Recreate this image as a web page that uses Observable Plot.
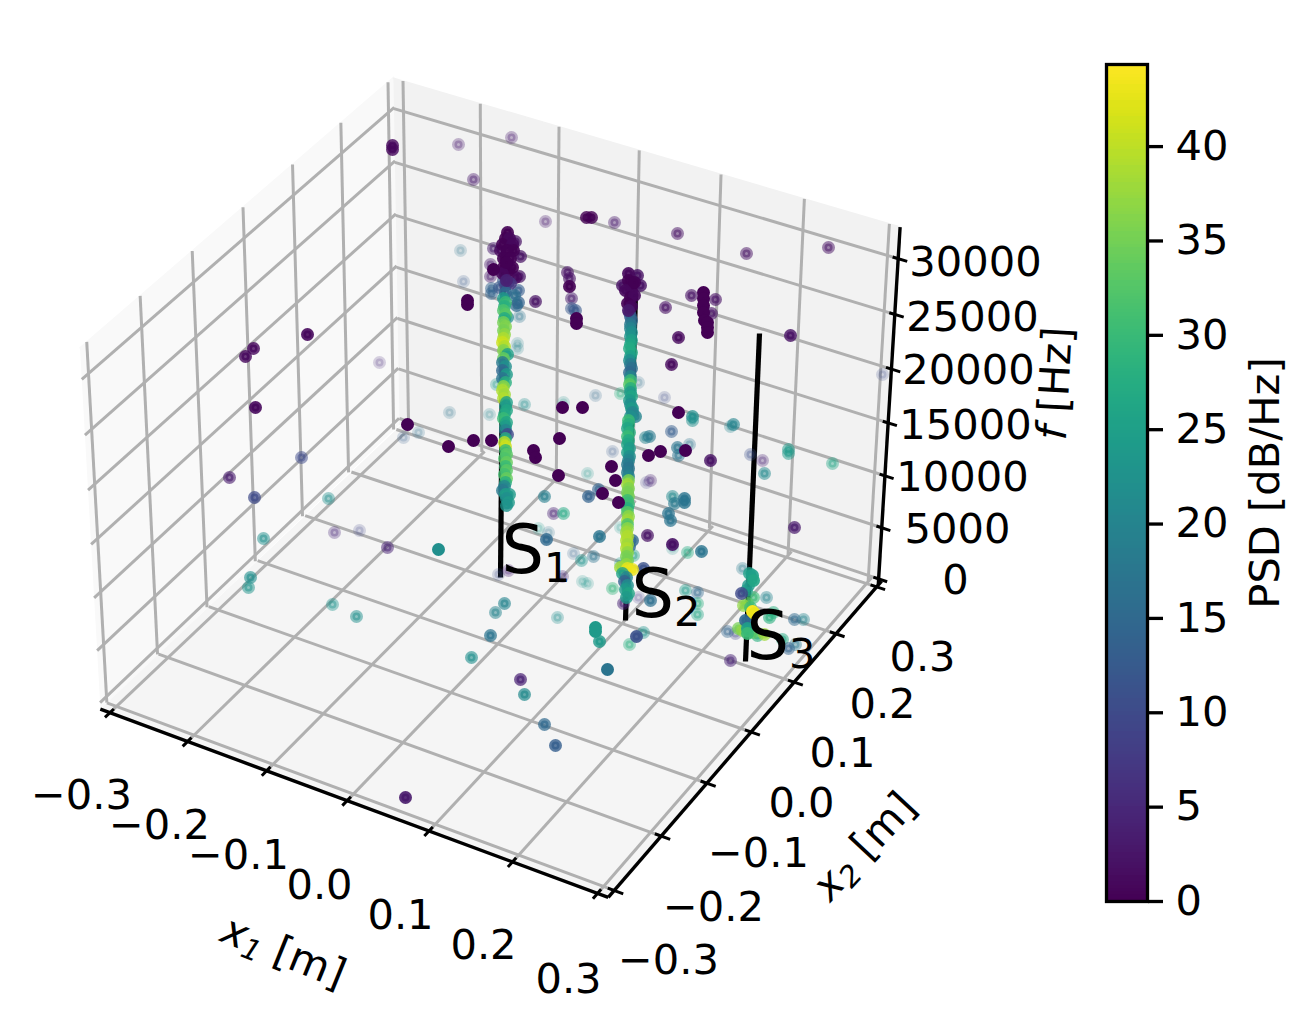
<!DOCTYPE html>
<html>
<head>
<meta charset="utf-8">
<script src="https://cdn.jsdelivr.net/npm/d3@7"></script>
<script src="https://cdn.jsdelivr.net/npm/@observablehq/plot@0.6"></script>
<style>
html,body{margin:0;padding:0;background:#fff}
#chart{position:relative;width:1315px;height:1032px;overflow:hidden}
#chart svg{position:absolute;left:0;top:0;background:transparent}
</style>
</head>
<body>
<div id="chart"></div>
<script>
// ---------- values ----------
const x1Ticks = [-0.3,-0.2,-0.1,0,0.1,0.2,0.3];
const x2Ticks = [-0.3,-0.2,-0.1,0,0.1,0.2,0.3];
const fTicks = [0,5000,10000,15000,20000,25000,30000];
const psdTicks = [0,5,10,15,20,25,30,35,40];
const psdMax = 44.35;
const paneEdge = 0.3125, fLow = -600, fHigh = 32800;

// projected positions of the tick-extent corners of each face
const floorCorners = [[116,706],[603,886],[866,583],[405,432]];   // (x1,x2): (-,-) (+,-) (+,+) (-,+)
const backCorners  = [[408,421],[868,575],[887,255],[403,111]];   // (x1,f):  (-,0) (+,0) (+,30k) (-,30k)
const leftCorners  = [[106,696],[393,423],[388,112],[88,373]];    // (x2,f):  (-,0) (+,0) (+,30k) (-,30k)

const x1Labels = [["−0.3",81,795],["−0.2",159,825],["−0.1",238,855],["0.0",319,885],["0.1",400,915],["0.2",483,945],["0.3",568,979]];
const x2Labels = [["−0.3",668,960],["−0.2",713,907],["−0.1",758,853],["0.0",801,803],["0.1",842,753],["0.2",882,704],["0.3",922,657]];
const fLabels = [["0",955,580],["5000",957,529],["10000",962,477],["15000",965,425],["20000",968,370],["25000",972,317],["30000",975,262]];

const sourceNames = [["S1",501,551],["S2",631,595],["S3",746,637]];
const sourceLines = [[500,577,503,250],[625,620,635,293],[745,661,759,333]];

// [viewX, viewY, PSD dB/Hz, nearness 0..1]
const sparsePoints = [
[458,144,3,.3],[511,137,3,.3],[473,179,3,.4],[545,221,3,.3],[586,217,0,.8],[591,217,0,.8],[614,222,3,.4],[677,233,2,.5],
[746,253,2,.5],[828,247,2,.5],[392,145,1,.8],[392,149,1,.8],[460,250,17,.2],[463,281,12,.2],[467,300,0,1],[467,304,0,1],
[491,288,14,.5],[491,293,14,.5],[490,264,3,.4],[490,276,3,.4],[493,248,3,.5],[493,269,0,1],[535,301,2,.7],[519,316,17,.3],
[517,343,20,.2],[517,348,20,.2],[524,404,22,.3],[489,414,20,.2],[449,412,17,.2],[562,407,0,1],[582,407,0,1],[563,402,22,.2],
[595,395,15,.2],[496,384,24,.3],[567,272,2,.6],[569,278,2,.6],[569,286,0,.9],[571,298,3,.5],[571,308,12,.5],[575,310,12,.6],
[576,318,0,1],[576,323,0,1],[665,307,2,.6],[691,295,2,.6],[703,292,0,1],[703,298,0,1],[703,305,0,1],[703,312,0,1],
[704,320,0,1],[707,322,0,1],[707,327,0,1],[707,332,0,1],[715,299,2,.6],[711,313,2,.6],[678,337,1,.8],[671,364,1,.8],
[638,382,16,.2],[664,397,10,.2],[678,412,0,1],[692,416,22,.7],[692,420,22,.5],[733,424,20,.6],[730,426,20,.3],[790,335,2,.8],
[882,374,10,.2],[671,431,13,.5],[645,437,20,.5],[649,436,18,.6],[677,447,17,.6],[678,455,17,.5],[689,444,17,.3],[685,450,0,1],
[660,451,0,1],[648,455,0,1],[710,460,2,.8],[750,454,11,.3],[762,460,4,.3],[764,473,21,.5],[788,449,24,.5],[788,453,24,.5],
[832,463,26,.4],[650,480,4,.3],[646,482,8,.2],[672,496,21,.5],[674,503,18,.6],[684,498,17,.8],[684,502,17,.8],[668,513,17,.7],
[670,520,17,.7],[647,535,2,.7],[672,548,22,.2],[672,544,2,.9],[687,552,27,.4],[701,551,17,.8],[794,527,3,.7],[643,568,11,.8],
[650,600,16,.7],[685,590,24,.4],[697,592,15,.4],[697,603,28,.4],[697,614,26,.4],[643,632,23,.4],[636,636,11,.9],[629,644,28,.4],
[607,669,17,1],[595,627,24,1],[595,631,24,1],[599,641,24,.8],[612,588,29,.4],[623,603,4,.5],[638,597,8,.2],[632,540,15,.8],
[629,546,15,.8],[633,555,25,.4],[620,527,24,.2],[620,563,24,.3],[635,416,20,.8],[632,408,22,.8],[620,393,28,.3],
[307,334,1,.9],[253,348,1,.8],[245,356,1,.8],[379,362,5,.2],[255,407,1,.9],[229,477,3,.6],[301,457,10,.5],[254,497,10,.7],
[328,498,22,.4],[263,538,22,.5],[250,577,22,.6],[248,587,23,.5],[334,532,5,.3],[359,530,9,.2],[387,547,4,.5],[438,549,22,1],
[332,604,23,.4],[356,616,22,.5],[407,424,0,1],[418,432,16,.2],[403,437,13,.2],[448,446,0,1],[473,440,0,1],[491,440,0,1],
[559,438,0,1],[533,450,0,1],[535,457,0,1],[558,475,0,1],[587,473,23,.2],[544,496,19,.6],[588,496,14,.7],[598,489,14,.6],
[602,493,0,1],[611,466,0,1],[615,480,0,1],[618,502,0,1],[612,451,12,.2],[553,513,4,.4],[563,513,27,.5],[538,528,24,.2],
[548,532,17,.2],[546,539,15,.8],[599,536,17,.8],[573,553,14,.2],[581,560,23,.4],[593,556,17,.4],[508,570,4,.3],[498,574,10,.2],
[562,576,5,.3],[582,581,23,.2],[587,583,23,.2],[504,603,20,.6],[495,612,20,.5],[557,617,22,.3],[490,635,17,.7],[471,657,22,.6],
[520,679,4,.7],[524,694,21,.7],[544,724,15,.7],[555,745,13,.8],[405,797,3,.9]
];

const sourceS1Points = [
[507,232,0,.9],[505,238,0,.9],[509,238,1,.9],[502,244,0,.9],[512,244,1,.9],[515,241,2,.7],[500,250,1,.8],[507,250,0,.9],
[513,250,0,.9],[520,256,2,.7],[503,258,0,.9],[510,258,0,.9],[503,267,0,.9],[512,267,0,.9],[515,277,1,.8],[519,276,2,.7],
[508,270,0,.9],[502,273,1,.9],[506,262,0,.9],[506,280,4,.9],[518,290,13,.6],[518,302,14,.7],[516,305,15,.7],[503,280,12,.6],
[499,287,12,.6],[505,285,9,.7],[510,283,7,.8],[505,292,15,.8],[514,295,16,.7],[507,317,22,.7],
[503,298,24,.8],[505,302,30,.8],[504,306,28,.8],[503,310,32,.8],[505,314,33,.8],[504,318,27,.8],[503,322,35,.8],[505,326,36,.8],
[503,330,35,.8],[504,334,37,.8],[503,338,39,.8],[502,342,41,.8],[504,346,39,.8],[503,350,36,.8],[507,354,25,.8],[503,358,34,.8],
[502,362,18,.8],[505,366,22,.8],[502,370,15,.8],[506,374,24,.8],[502,378,17,.8],[505,382,28,.8],[503,386,37,.8],[502,390,39,.8],
[504,394,38,.8],[503,398,39,.8],[506,402,25,.8],[505,406,24,.8],[506,410,26,.8],[504,414,27,.8],[503,418,30,.8],[506,422,26,.8],
[505,426,24,.8],[505,430,20,.8],[507,434,10,.8],[505,438,28,.8],[504,442,40,.8],[505,446,41,.8],[505,450,30,.8],[506,454,33,.8],
[504,458,32,.8],[506,462,34,.8],[505,466,30,.8],[506,470,33,.8],[504,474,31,.8],[506,478,34,.8],[505,482,28,.8],[504,486,20,.8],
[502,490,18,.8],[505,494,25,.8],[509,494,24,.8],[506,498,22,.8],[508,502,24,.8],[506,505,23,.8]
];

const sourceS2Points = [
[628,273,1,.9],[637,275,2,.8],[640,285,2,.8],[622,285,2,.8],[628,280,0,.9],[632,283,0,.9],[631,290,0,.9],[625,290,1,.9],
[630,297,0,.9],[634,295,1,.9],[627,303,0,.9],[631,306,1,.9],[628,310,3,.9],[634,282,0,.9],
[629,312,8,.8],[630,316,13,.8],[631,320,15,.8],[630,324,18,.8],[630,328,20,.8],[631,332,22,.8],[630,336,23,.8],[631,340,25,.8],
[630,344,26,.8],[629,348,27,.8],[631,352,27,.8],[630,356,25,.8],[629,360,22,.8],[630,364,18,.8],[631,368,16,.8],[629,372,15,.8],
[630,376,20,.8],[630,380,30,.8],[629,384,33,.8],[630,388,28,.8],[630,392,24,.8],[631,396,26,.8],[629,400,24,.8],[630,404,22,.8],
[631,408,24,.8],[632,412,20,.8],[630,416,22,.8],[628,420,30,.8],[628,424,28,.8],[627,428,26,.8],[629,432,28,.8],[627,436,30,.8],
[628,440,27,.8],[627,444,26,.8],[629,448,24,.8],[627,452,25,.8],[629,456,22,.8],[628,460,20,.8],[627,464,18,.8],[628,468,17,.8],
[627,472,18,.8],[628,476,20,.8],[628,480,36,.8],[627,484,38,.8],[628,488,36,.8],[627,492,35,.8],[628,496,35,.8],[627,500,30,.8],
[628,504,30,.8],[627,508,28,.8],[627,512,33,.8],[628,516,37,.8],[627,520,38,.8],[627,524,32,.8],[627,528,37,.8],[626,532,38,.8],
[627,536,39,.8],[626,540,39,.8],[627,544,38,.8],[626,548,39,.8],[627,552,37,.8],[626,556,35,.8],[627,560,35,.8],[626,564,37,.8],
[620,567,38,.8],[627,568,43,.8],[632,569,43,.8],[622,573,25,.8],[626,577,20,.8],[624,581,14,.8],[627,585,22,.8],[625,589,24,.8],
[628,593,26,.8],[626,597,24,.8]
];

const sourceS3Points = [
[742,568,18,.3],[749,573,25,.8],[752,575,25,.9],[753,580,26,.9],[748,585,24,.8],[746,590,25,.7],[741,593,10,.8],[753,597,30,.6],
[766,597,20,.4],[747,603,33,.6],[743,605,37,.7],[750,607,30,.7],[773,612,28,.5],[769,617,28,.6],[745,620,15,.9],[750,622,17,.8],
[738,628,35,.7],[727,631,14,.4],[735,633,9,.3],[747,628,25,.9],[747,633,30,.9],[753,632,33,.7],[757,635,28,.6],[764,634,38,.7],
[794,619,15,.5],[803,619,20,.4],[782,639,27,.5],[788,648,14,.5],[795,644,18,.4],[730,660,4,.5],[742,630,37,.7],[752,611,44,1],[754,613,43,1]
];

// ---------- helpers ----------
const W = 1315, H = 1032;
const FONT = "DejaVu Sans";
const FS = 41.6;

// projective map of the unit square onto a quadrilateral
function quad(c){
  const [[x0,y0],[x1,y1],[x2,y2],[x3,y3]] = c;
  const dx1=x1-x2, dx2=x3-x2, sx=x0-x1+x2-x3, dy1=y1-y2, dy2=y3-y2, sy=y0-y1+y2-y3;
  const den=dx1*dy2-dx2*dy1, g=(sx*dy2-dx2*sy)/den, h=(dx1*sy-sx*dy1)/den;
  const a=x1-x0+g*x1, b=x3-x0+h*x3, d=y1-y0+g*y1, e=y3-y0+h*y3;
  return (u,v)=>{const w=g*u+h*v+1; return [(a*u+b*v+x0)/w,(d*u+e*v+y0)/w];};
}
const nx = v => (v+0.3)/0.6, nf = v => v/30000;
const qFloor = quad(floorCorners), qBack = quad(backCorners), qLeft = quad(leftCorners);
const floorAt = (a,b)=>qFloor(nx(a),nx(b));
const backAt = (a,f)=>qBack(nx(a),nf(f));
const leftAt = (b,f)=>qLeft(nx(b),nf(f));
const toSeg = (p,q)=>({x1:p[0],y1:p[1],x2:q[0],y2:q[1]});
const poly = pts => pts.map(p=>({x:p[0],y:p[1]}));
const E = paneEdge;

const paneFloor = poly([floorAt(-E,-E),floorAt(E,-E),floorAt(E,E),floorAt(-E,E)]);
const paneBack = poly([backAt(-E,fLow),backAt(E,fLow),backAt(E,fHigh),backAt(-E,fHigh)]);
const paneLeft = poly([leftAt(-E,fLow),leftAt(E,fLow),leftAt(E,fHigh),leftAt(-E,fHigh)]);

const grid = [
  ...x1Ticks.map(t=>toSeg(floorAt(t,-E),floorAt(t,E))),
  ...x2Ticks.map(t=>toSeg(floorAt(-E,t),floorAt(E,t))),
  ...x1Ticks.map(t=>toSeg(backAt(t,fLow),backAt(t,fHigh))),
  ...fTicks.map(t=>toSeg(backAt(-E,t),backAt(E,t))),
  ...x2Ticks.map(t=>toSeg(leftAt(t,fLow),leftAt(t,fHigh))),
  ...fTicks.map(t=>toSeg(leftAt(-E,t),leftAt(E,t)))
];
const axes = [
  toSeg(floorAt(-E,-E),floorAt(E,-E)),
  toSeg(floorAt(E,-E),floorAt(E,E)),
  toSeg(backAt(E,fLow),backAt(E,fHigh))
];
const ticks = [
  ...x1Ticks.map(t=>toSeg(floorAt(t,-0.322),floorAt(t,-0.305))),
  ...x2Ticks.map(t=>toSeg(floorAt(0.305,t),floorAt(0.323,t))),
  ...fTicks.map(t=>toSeg(backAt(0.306,t),backAt(0.323,t)))
];
const toRow = r=>({x:r[0],y:r[1],psd:r[2],depth:r[3]});
const points = [...sparsePoints,...sourceS1Points,...sourceS2Points,...sourceS3Points].map(toRow);
const textRows = rows=>rows.map(r=>({t:r[0],x:r[1],y:r[2]}));
const seg = {x1:"x1",y1:"y1",x2:"x2",y2:"y2"};
const lab = (rows,o={})=>Plot.text(textRows(rows),{x:"x",y:"y",text:"t",fontFamily:FONT,fontSize:FS,fill:"#000",textAnchor:"middle",lineAnchor:"middle",...o});

const main = Plot.plot({
  width:W,height:H,margin:0,
  x:{domain:[0,W],range:[0,W],axis:null},
  y:{domain:[0,H],range:[0,H],axis:null},
  color:{type:"linear",scheme:"viridis",domain:[0,psdMax]},
  opacity:{type:"linear",domain:[0,1],range:[0.55,1]},
  style:{background:"transparent",fontFamily:FONT},
  marks:[
    Plot.line(paneLeft,{x:"x",y:"y",fill:"#f9f9f9",stroke:"#f9f9f9"}),
    Plot.line(paneBack,{x:"x",y:"y",fill:"#f2f2f2",stroke:"#f2f2f2"}),
    Plot.line(paneFloor,{x:"x",y:"y",fill:"#f5f5f5",stroke:"#f5f5f5"}),
    Plot.link(grid,{...seg,stroke:"#b0b0b0",strokeWidth:3}),
    Plot.link(axes,{...seg,stroke:"#000",strokeWidth:3.4}),
    Plot.link(ticks,{...seg,stroke:"#000",strokeWidth:3}),
    Plot.link(sourceLines.map(r=>({x1:r[0],y1:r[1],x2:r[2],y2:r[3]})),{...seg,stroke:"#000",strokeWidth:5.2}),
    Plot.dot(points,{x:"x",y:"y",r:4,strokeWidth:5,fill:"psd",stroke:"psd",fillOpacity:"depth",strokeOpacity:"depth",sort:"depth"}),
    lab(x1Labels),lab(x2Labels),lab(fLabels),
    lab([["x1 [m]",283,952]],{rotate:22}),
    lab([["x2 [m]",864,846]],{rotate:-47}),
    lab([["f [Hz]",1055,383]],{rotate:-87}),
    lab(sourceNames,{fontSize:67,textAnchor:"start"})
  ]
});

const barTop = 64, barBottom = 901, barLeft = 1106, barRight = 1147;
const steps = d3.range(256).map(i=>({lo:psdMax*i/256,hi:psdMax*(i+1)/256}));
const bar = Plot.plot({
  width:W,height:H,
  marginTop:barTop,marginBottom:H-barBottom,marginLeft:barLeft,marginRight:W-barRight,
  x:{domain:[0,1],axis:null},
  y:{domain:[0,psdMax],axis:null},
  color:{type:"linear",scheme:"viridis",domain:[0,psdMax]},
  style:{background:"transparent",fontFamily:FONT},
  marks:[
    Plot.rect(steps,{x1:0,x2:1,y1:"lo",y2:"hi",fill:"lo",shapeRendering:"crispEdges"}),
    Plot.frame({stroke:"#000",strokeWidth:3.3}),
    Plot.axisY({anchor:"right",ticks:psdTicks,tickSize:15,tickPadding:13,tickFormat:d3.format("d"),fontSize:FS,fontFamily:FONT,fill:"#000",stroke:"#000",strokeWidth:3.3,label:null}),
    Plot.text(["PSD [dB/Hz]"],{frameAnchor:"right",dx:118,text:d=>d,rotate:-90,fontSize:FS,fontFamily:FONT,fill:"#000",textAnchor:"middle",lineAnchor:"middle"})
  ]
});

// math-style runs: italic symbols and real subscripts, as tspans of the same text
const runs = {
  "x1 [m]":[["x",1,0,"70%"],["1",1,1,"70%"],[" [m]",0,0]],
  "x2 [m]":[["x",1,0,"70%"],["2",1,1,"70%"],[" [m]",0,0]],
  "f [Hz]":[["f",1,0],[" [Hz]",0,0]],
  "S1":[["S",0,0],["1",0,1,"62%"]],
  "S2":[["S",0,0],["2",0,1,"62%"]],
  "S3":[["S",0,0],["3",0,1,"62%"]]
};
d3.select(main).selectAll("text").each(function(){
  const spec=runs[this.textContent];
  if(!spec) return;
  this.textContent="";
  const el=d3.select(this);
  let wasSub=false;
  for(const [txt,ital,sub,size] of spec){
    const t=el.append("tspan").text(txt);
    if(ital) t.attr("font-style","italic");
    if(sub) t.attr("font-size",size).attr("dy","0.22em");
    else if(wasSub) t.attr("dy","-0.154em");
    wasSub=!!sub;
  }
});

const root = document.getElementById("chart");
root.appendChild(main);
root.appendChild(bar);
</script>
</body>
</html>
